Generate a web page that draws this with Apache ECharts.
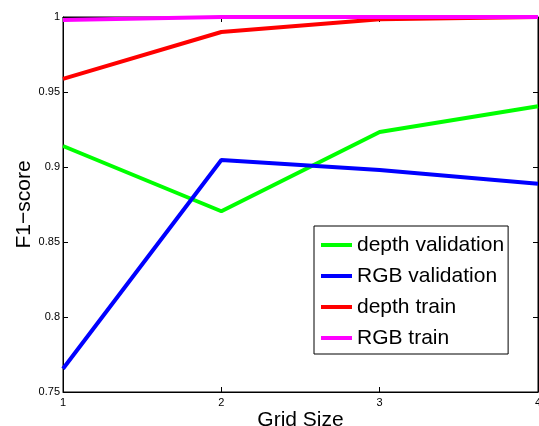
<!DOCTYPE html>
<html>
<head>
<meta charset="utf-8">
<script src="https://cdn.jsdelivr.net/npm/echarts@6/dist/echarts.min.js"></script>
<style>html,body{margin:0;padding:0;background:#fff;}#c{width:539px;height:426px;}</style>
</head>
<body>
<div id="c"></div>
<script>
var gridSizes = [1, 2, 3, 4];
var depthValidation = [0.914, 0.8705, 0.9233, 0.9405];
var rgbValidation = [0.7655, 0.9047, 0.898, 0.8888];
var depthTrain = [0.9588, 0.990, 0.9985, 1.0];
var rgbTrain = [0.998, 1.0, 1.0, 1.0];
var yTicks = [0.75, 0.8, 0.85, 0.9, 0.95, 1];

function pairs(v) { return gridSizes.map(function (x, i) { return [x, v[i]]; }); }

var font = 'Liberation Sans, Arial, Helvetica, sans-serif';
var chart = echarts.init(document.getElementById('c'), null, {renderer: 'canvas'});
function line(name, data, color) {
  return {
    name: name, type: 'line', data: pairs(data), showSymbol: false, symbol: 'none',
    lineStyle: {color: color, width: 4}, itemStyle: {color: color}, animation: false,
    xAxisIndex: 0, yAxisIndex: 0
  };
}
chart.setOption({
  backgroundColor: '#fff',
  animation: false,
  grid: {left: 63, right: 1, top: 17, bottom: 34, containLabel: false, outerBoundsMode: 'none',
    show: true, borderColor: '#000', borderWidth: 1, backgroundColor: 'transparent'},
  legend: {
    orient: 'vertical', left: 314, top: 226,
    data: ['depth validation', 'RGB validation', 'depth train', 'RGB train'],
    icon: 'rect', itemWidth: 31, itemHeight: 4, itemGap: 9,
    padding: [8, 4, 5, 7],
    borderColor: '#000', borderWidth: 1, backgroundColor: '#fff',
    textStyle: {fontFamily: font, fontSize: 21, color: '#000', lineHeight: 22}
  },
  xAxis: [{
    type: 'value', min: 1, max: 4, interval: 1, position: 'bottom',
    name: 'Grid Size', nameLocation: 'middle', nameGap: 18, nameMoveOverlap: false,
    nameTextStyle: {fontFamily: font, fontSize: 21, color: '#000'},
    axisLine: {show: true, lineStyle: {color: '#000', width: 1}},
    axisTick: {show: true, inside: true, length: 5, lineStyle: {color: '#000'}},
    axisLabel: {fontFamily: font, fontSize: 11, color: '#000', margin: 5},
    splitLine: {show: false}
  }, {
    type: 'value', min: 1, max: 4, interval: 1, position: 'top',
    axisLine: {show: true, lineStyle: {color: '#000'}},
    axisTick: {show: true, inside: true, length: 5, lineStyle: {color: '#000'}},
    axisLabel: {show: false}, splitLine: {show: false}
  }],
  yAxis: [{
    type: 'value', min: 0.75, max: 1, interval: 0.05, position: 'left',
    name: 'F1\u2212score', nameLocation: 'middle', nameGap: 28, nameMoveOverlap: false,
    nameTextStyle: {fontFamily: font, fontSize: 21, color: '#000'},
    axisLine: {show: true, lineStyle: {color: '#000', width: 1}},
    axisTick: {show: true, inside: true, length: 5, lineStyle: {color: '#000'}},
    axisLabel: {fontFamily: font, fontSize: 11, color: '#000', margin: 3,
      formatter: function (v) { return String(Math.round(v * 100) / 100); }},
    splitLine: {show: false}
  }, {
    type: 'value', min: 0.75, max: 1, interval: 0.05, position: 'right',
    axisLine: {show: true, lineStyle: {color: '#000'}},
    axisTick: {show: true, inside: true, length: 5, lineStyle: {color: '#000'}},
    axisLabel: {show: false}, splitLine: {show: false}
  }],
  series: [
    line('depth validation', depthValidation, '#00ff00'),
    line('RGB validation', rgbValidation, '#0000ff'),
    line('depth train', depthTrain, '#ff0000'),
    line('RGB train', rgbTrain, '#ff00ff')
  ]
});
</script>
</body>
</html>
